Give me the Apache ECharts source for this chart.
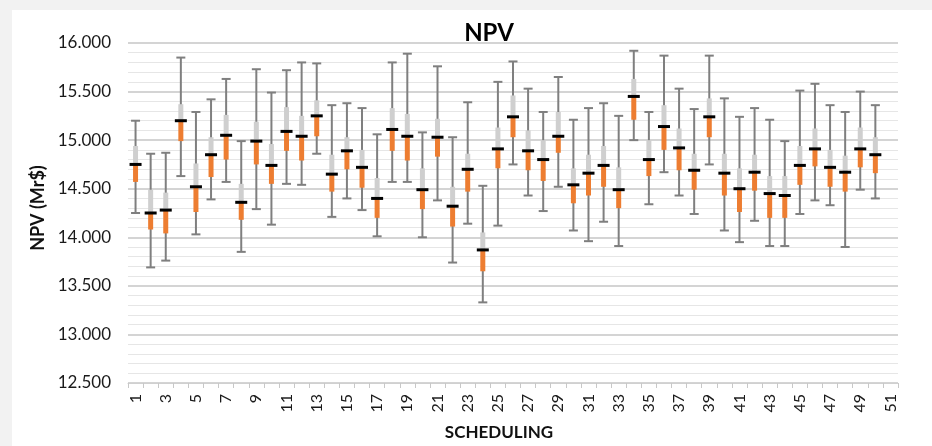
<!DOCTYPE html>
<html>
<head>
<meta charset="utf-8">
<script src="https://cdn.jsdelivr.net/npm/echarts@6/dist/echarts.min.js"></script>
<style>
  body { margin: 0; background: #f2f2f2; }
  #chart { position: absolute; left: 12px; top: 10px; width: 920px; height: 436px; background: #fff; }
</style>
</head>
<body>
<div id="chart"></div>
<script>
// x categories 1..51 (51 stays empty)
var categories = [];
for (var i = 1; i <= 51; i++) categories.push(String(i));

// box values per scheduling
var mins    = [14.25,13.69,13.76,14.63,14.03,14.39,14.57,13.85,14.29,14.13,14.55,14.54,14.86,14.21,14.40,14.28,14.01,14.57,14.57,14.00,14.38,13.74,14.14,13.33,14.12,14.75,14.43,14.27,14.52,14.07,13.96,14.16,13.91,15.00,14.34,14.67,14.43,14.24,14.75,14.07,13.95,14.17,13.91,13.91,14.24,14.38,14.33,13.90,14.49,14.40];
var q1s     = [14.57,14.08,14.04,14.99,14.26,14.62,14.80,14.18,14.75,14.55,14.89,14.79,15.04,14.47,14.70,14.51,14.20,14.89,14.79,14.29,14.83,14.11,14.47,13.65,14.71,15.03,14.69,14.58,14.87,14.35,14.43,14.52,14.30,15.21,14.63,14.90,14.69,14.49,15.03,14.43,14.26,14.48,14.20,14.20,14.54,14.73,14.52,14.47,14.72,14.66];
var medians = [14.75,14.25,14.28,15.20,14.52,14.85,15.05,14.36,14.99,14.74,15.09,15.04,15.25,14.65,14.89,14.72,14.40,15.11,15.04,14.49,15.03,14.32,14.70,13.87,14.91,15.24,14.89,14.80,15.04,14.54,14.66,14.74,14.49,15.45,14.80,15.14,14.92,14.69,15.24,14.66,14.50,14.67,14.45,14.43,14.74,14.91,14.72,14.67,14.91,14.85];
var q3s     = [14.94,14.49,14.46,15.37,14.76,15.03,15.26,14.55,15.19,14.96,15.34,15.25,15.41,14.85,15.03,14.90,14.61,15.33,15.27,14.71,15.22,14.52,14.86,14.05,15.13,15.46,15.10,15.00,15.29,14.71,14.85,14.94,14.72,15.63,15.00,15.36,15.12,14.86,15.43,14.86,14.71,14.85,14.63,14.63,14.94,15.12,14.90,14.84,15.13,15.03];
var maxs    = [15.20,14.86,14.87,15.85,15.29,15.42,15.63,14.99,15.73,15.49,15.72,15.80,15.79,15.36,15.38,15.33,15.06,15.80,15.89,15.08,15.76,15.03,15.39,14.53,15.60,15.81,15.53,15.29,15.65,15.21,15.33,15.38,15.25,15.92,15.29,15.87,15.53,15.32,15.87,15.43,15.24,15.33,15.21,14.99,15.51,15.58,15.36,15.29,15.50,15.36];

var boxData = [];
for (var k = 0; k < medians.length; k++) {
  boxData.push([k, mins[k], q1s[k], medians[k], q3s[k], maxs[k]]);
}

function renderBox(params, api) {
  var x = api.value(0);
  var pMin = api.coord([x, api.value(1)]);
  var pQ1 = api.coord([x, api.value(2)]);
  var pMed = api.coord([x, api.value(3)]);
  var pQ3 = api.coord([x, api.value(4)]);
  var pMax = api.coord([x, api.value(5)]);
  var cx = pMed[0];
  var grey = '#7f7f7f';
  return {
    type: 'group',
    children: [
      // whisker + caps
      { type: 'line', shape: { x1: cx, y1: pMin[1], x2: cx, y2: pMax[1] }, style: { stroke: grey, lineWidth: 2 } },
      { type: 'line', shape: { x1: cx - 4.5, y1: pMax[1], x2: cx + 4.5, y2: pMax[1] }, style: { stroke: grey, lineWidth: 2 } },
      { type: 'line', shape: { x1: cx - 4.5, y1: pMin[1], x2: cx + 4.5, y2: pMin[1] }, style: { stroke: grey, lineWidth: 2 } },
      // upper half light grey, lower half orange
      { type: 'rect', shape: { x: cx - 2.5, y: pQ3[1], width: 5, height: pMed[1] - pQ3[1] }, style: { fill: '#cfcfcf' } },
      { type: 'rect', shape: { x: cx - 2.5, y: pMed[1], width: 5, height: pQ1[1] - pMed[1] }, style: { fill: '#ed7d31' } },
      // median mark
      { type: 'line', shape: { x1: cx - 6, y1: pMed[1], x2: cx + 6, y2: pMed[1] }, style: { stroke: '#000', lineWidth: 3 } }
    ]
  };
}

var myChart = echarts.init(document.getElementById('chart'));
var option = {
  animation: false,
  textStyle: { fontFamily: 'Lato' },
  title: {
    text: 'NPV',
    left: 472,
    top: 6,
    textAlign: 'center',
    textStyle: { fontFamily: 'Lato', fontWeight: 'bold', fontSize: 24, color: '#000' }
  },
  grid: { left: 116, right: 34, top: 33, bottom: 63 },
  xAxis: {
    type: 'category',
    data: categories,
    name: 'SCHEDULING',
    nameLocation: 'middle',
    nameGap: 41,
    nameTextStyle: { fontFamily: 'Lato', fontWeight: 'bold', fontSize: 17, color: '#111', padding: [0, 28, 0, 0] },
    axisLine: { lineStyle: { color: '#d0d0d0', width: 1 } },
    axisTick: { show: true, interval: 0, length: 5, lineStyle: { color: '#c8c8c8' } },
    axisLabel: { interval: 1, rotate: 90, margin: 11, fontSize: 16, color: '#1a1a1a' },
    splitLine: { show: false }
  },
  yAxis: {
    type: 'value',
    min: 12.5,
    max: 16,
    interval: 0.5,
    name: 'NPV (Mr$)',
    nameLocation: 'middle',
    nameGap: 74,
    nameTextStyle: { fontFamily: 'Lato', fontWeight: 'bold', fontSize: 18, color: '#111', padding: [0, 0, 0, 10] },
    axisLine: { show: false },
    axisTick: { show: false },
    axisLabel: {
      fontSize: 17, color: '#1a1a1a', margin: 17,
      formatter: function (v) { return v.toFixed(3); }
    },
    splitLine: { lineStyle: { color: '#d4d4d4', width: 2 } },
    minorTick: { show: false, splitNumber: 5 },
    minorSplitLine: { show: true, lineStyle: { color: '#e6e6e6', width: 1 } }
  },
  series: [
    {
      type: 'custom',
      renderItem: renderBox,
      encode: { x: 0, y: [1, 2, 3, 4, 5] },
      data: boxData,
      z: 3
    }
  ]
};
myChart.setOption(option);
</script>
</body>
</html>
